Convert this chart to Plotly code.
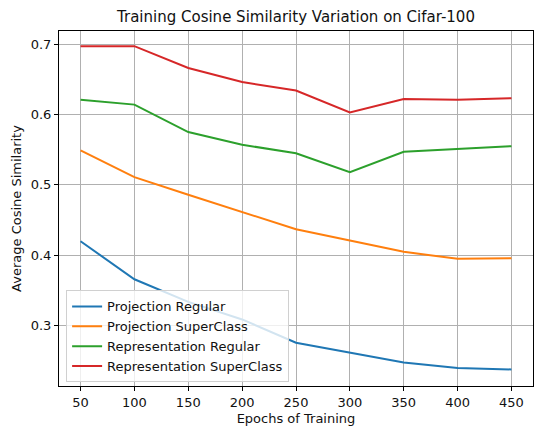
import plotly.graph_objects as go

epochs = [50, 100, 150, 200, 250, 300, 350, 400, 450]
proj_regular = [0.420, 0.366, 0.334, 0.309, 0.276, 0.262, 0.248, 0.240, 0.238]
proj_superclass = [0.549, 0.511, 0.486, 0.461, 0.437, 0.421, 0.405, 0.395, 0.396]
repr_regular = [0.621, 0.614, 0.575, 0.557, 0.545, 0.518, 0.547, 0.551, 0.555]
repr_superclass = [0.697, 0.697, 0.666, 0.646, 0.634, 0.603, 0.622, 0.621, 0.623]

names = ["Projection Regular", "Projection SuperClass",
         "Representation Regular", "Representation SuperClass"]
series = [proj_regular, proj_superclass, repr_regular, repr_superclass]
colors = ["#1f77b4", "#ff7f0e", "#2ca02c", "#d62728"]

fig = go.Figure()
for n, s, c in zip(names, series, colors):
    fig.add_trace(go.Scatter(x=epochs, y=s, mode="lines", name=n,
                             line=dict(color=c, width=2)))

font = "DejaVu Sans"
fig.update_layout(
    width=535, height=428,
    margin=dict(l=59, r=2, t=31, b=42),
    paper_bgcolor="white", plot_bgcolor="white",
    font=dict(family=font, size=13, color="#111"),
    title=dict(text="Training Cosine Similarity Variation on Cifar-100",
               x=0.5, xref="paper", xanchor="center", y=0.96, yanchor="middle",
               font=dict(size=15, color="#111")),
    legend=dict(x=0.015, y=0.01, xanchor="left", yanchor="bottom",
                bgcolor="rgba(255,255,255,0.8)", bordercolor="#d0d0d0",
                borderwidth=1, font=dict(size=13), tracegroupgap=0),
    showlegend=True,
)
fig.update_xaxes(range=[30, 470], tickmode="array", tickvals=epochs,
                 showgrid=True, gridcolor="#b0b0b0", gridwidth=1,
                 showline=True, linecolor="black", linewidth=1, mirror=True,
                 ticks="outside", ticklen=4, tickcolor="black",
                 title=dict(text="Epochs of Training", font=dict(size=13), standoff=5),
                 zeroline=False, tickfont=dict(size=13))
fig.update_yaxes(range=[0.2145, 0.7185], tickmode="array",
                 tickvals=[0.3, 0.4, 0.5, 0.6, 0.7], tickformat=".1f",
                 showgrid=True, gridcolor="#b0b0b0", gridwidth=1,
                 showline=True, linecolor="black", linewidth=1, mirror=True,
                 ticks="outside", ticklen=4, tickcolor="black",
                 title=dict(text="Average Cosine Similarity", font=dict(size=13), standoff=6),
                 zeroline=False, tickfont=dict(size=13))

fig.write_html("out.html")
